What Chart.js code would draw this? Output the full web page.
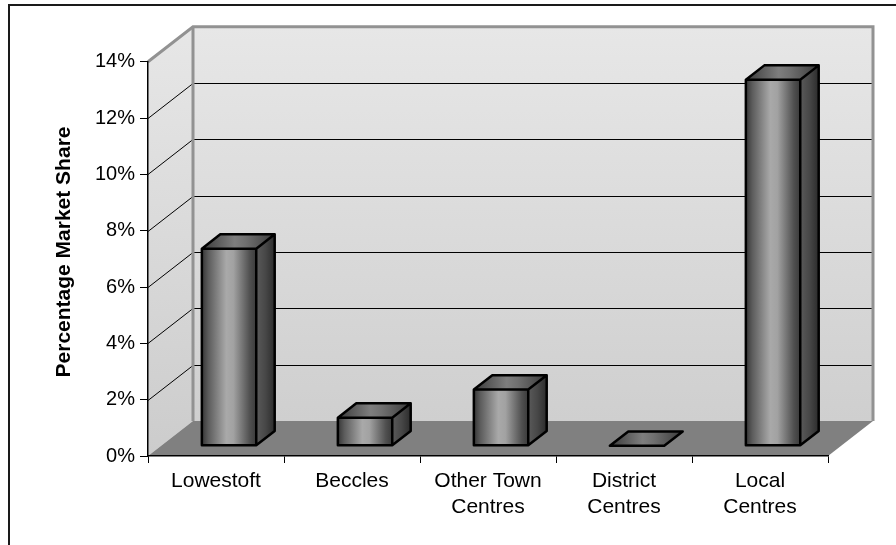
<!DOCTYPE html>
<html>
<head>
<meta charset="utf-8">
<title>Percentage Market Share</title>
<script src="https://cdn.jsdelivr.net/npm/chart.js@4.4.1/dist/chart.umd.min.js"></script>
<style>
  html, body { margin: 0; padding: 0; background: #ffffff; }
  #wrap { width: 896px; height: 545px; position: relative; }
</style>
</head>
<body>
<div id="wrap"><canvas id="chart"></canvas></div>
<script>
// Market share by centre type (percent)
const categories = [['Lowestoft'], ['Beccles'], ['Other Town', 'Centres'], ['District', 'Centres'], ['Local', 'Centres']];
const shareValues = [7, 1, 2, 0, 13];
const yTicks = [0, 2, 4, 6, 8, 10, 12, 14];
const yTitle = 'Percentage Market Share';

// Oblique projection of the 3D box: depth of the floor and the bars' slot in it
const DEPTH_X = 45, DEPTH_Y = 35;
const BAR_FRONT = 0.29, BAR_DEPTH = 0.41;
const FONT = '"Liberation Sans", Arial, sans-serif';

const walls3d = {
  id: 'walls3d',
  beforeDraw(chart) {
    const { ctx, chartArea: a, scales: { y } } = chart;
    ctx.save();
    ctx.fillStyle = '#ffffff';
    ctx.fillRect(0, 0, chart.width, chart.height);

    // outer frame
    ctx.strokeStyle = '#1a1a1a';
    ctx.lineWidth = 2;
    ctx.beginPath();
    ctx.moveTo(9, chart.height + 2);
    ctx.lineTo(9, 5);
    ctx.lineTo(chart.width + 2, 5);
    ctx.stroke();

    const top = y.getPixelForValue(yTicks[yTicks.length - 1]);
    const bot = y.getPixelForValue(0);
    const bx0 = a.left + DEPTH_X, bx1 = a.right + DEPTH_X;
    const by0 = top - DEPTH_Y, by1 = bot - DEPTH_Y;

    // back wall
    let g = ctx.createLinearGradient(0, by0, 0, by1);
    g.addColorStop(0, '#e7e7e7');
    g.addColorStop(1, '#cfcfcf');
    ctx.fillStyle = g;
    ctx.fillRect(bx0, by0, bx1 - bx0, by1 - by0);

    // side wall
    g = ctx.createLinearGradient(0, by0, 0, bot);
    g.addColorStop(0, '#e7e7e7');
    g.addColorStop(1, '#cccccc');
    ctx.fillStyle = g;
    ctx.beginPath();
    ctx.moveTo(a.left, bot);
    ctx.lineTo(a.left, top);
    ctx.lineTo(bx0, by0);
    ctx.lineTo(bx0, by1);
    ctx.closePath();
    ctx.fill();

    // floor
    ctx.fillStyle = '#808080';
    ctx.beginPath();
    ctx.moveTo(a.left, bot);
    ctx.lineTo(a.right, bot);
    ctx.lineTo(bx1, by1);
    ctx.lineTo(bx0, by1);
    ctx.closePath();
    ctx.fill();

    // gridlines on the walls
    ctx.strokeStyle = '#000000';
    ctx.lineWidth = 1;
    yTicks.forEach(v => {
      if (v === 0 || v === yTicks[yTicks.length - 1]) return;
      const py = Math.round(y.getPixelForValue(v)) + 0.5;
      ctx.beginPath();
      ctx.moveTo(a.left, py);
      ctx.lineTo(bx0, py - DEPTH_Y);
      ctx.lineTo(bx1, py - DEPTH_Y);
      ctx.stroke();
    });

    // wall edges
    ctx.strokeStyle = '#929292';
    ctx.lineWidth = 3;
    ctx.lineJoin = 'miter';
    ctx.beginPath();
    ctx.moveTo(a.left, top);
    ctx.lineTo(bx0, by0);
    ctx.lineTo(bx1, by0);
    ctx.lineTo(bx1, by1);
    ctx.stroke();
    ctx.beginPath();
    ctx.moveTo(bx0, by0);
    ctx.lineTo(bx0, by1);
    ctx.stroke();

    // y-axis title
    ctx.fillStyle = '#000000';
    ctx.font = 'bold 21px ' + FONT;
    ctx.textAlign = 'center';
    ctx.textBaseline = 'middle';
    ctx.translate(64, 252);
    ctx.rotate(-Math.PI / 2);
    ctx.fillText(yTitle, 0, 0);
    ctx.restore();
  }
};

const bars3d = {
  id: 'bars3d',
  afterDatasetsDraw(chart) {
    const { ctx } = chart;
    const meta = chart.getDatasetMeta(0);
    const fx = DEPTH_X * BAR_FRONT, fy = DEPTH_Y * BAR_FRONT;
    const dx = DEPTH_X * BAR_DEPTH, dy = DEPTH_Y * BAR_DEPTH;
    ctx.save();
    ctx.lineJoin = 'round';
    meta.data.forEach(bar => {
      const p = bar.getProps(['x', 'y', 'base', 'width'], true);
      const l = p.x - p.width / 2 + fx, r = p.x + p.width / 2 + fx;
      const t = p.y - fy, b = p.base - fy;

      // front face
      if (b - t > 0.5) {
        const g = ctx.createLinearGradient(l, 0, r, 0);
        g.addColorStop(0, '#363636');
        g.addColorStop(0.12, '#5c5c5c');
        g.addColorStop(0.45, '#a9a9a9');
        g.addColorStop(0.58, '#a2a2a2');
        g.addColorStop(0.88, '#505050');
        g.addColorStop(1, '#3a3a3a');
        ctx.fillStyle = g;
        ctx.fillRect(l, t, r - l, b - t);

        // side face
        const gs = ctx.createLinearGradient(r, 0, r + dx, 0);
        gs.addColorStop(0, '#5a5a5a');
        gs.addColorStop(0.5, '#474747');
        gs.addColorStop(1, '#2c2c2c');
        ctx.fillStyle = gs;
        ctx.beginPath();
        ctx.moveTo(r, t);
        ctx.lineTo(r + dx, t - dy);
        ctx.lineTo(r + dx, b - dy);
        ctx.lineTo(r, b);
        ctx.closePath();
        ctx.fill();
      }

      // top face
      const gt = ctx.createLinearGradient(l, 0, r + dx, 0);
      gt.addColorStop(0, '#3a3a3a');
      gt.addColorStop(0.45, '#7e7e7e');
      gt.addColorStop(0.6, '#707070');
      gt.addColorStop(1, '#3a3a3a');
      ctx.fillStyle = gt;
      ctx.beginPath();
      ctx.moveTo(l, t);
      ctx.lineTo(l + dx, t - dy);
      ctx.lineTo(r + dx, t - dy);
      ctx.lineTo(r, t);
      ctx.closePath();
      ctx.fill();

      // outlines
      ctx.strokeStyle = '#000000';
      ctx.lineWidth = 2.5;
      ctx.beginPath();
      ctx.moveTo(l, t);
      ctx.lineTo(l + dx, t - dy);
      ctx.lineTo(r + dx, t - dy);
      ctx.lineTo(r, t);
      ctx.closePath();
      if (b - t > 0.5) {
        ctx.moveTo(l, t);
        ctx.lineTo(l, b);
        ctx.lineTo(r, b);
        ctx.lineTo(r, t);
        ctx.moveTo(r, b);
        ctx.lineTo(r + dx, b - dy);
        ctx.lineTo(r + dx, t - dy);
      }
      ctx.stroke();
    });
    ctx.restore();
  }
};

new Chart(document.getElementById('chart'), {
  type: 'bar',
  data: {
    labels: categories,
    datasets: [{
      data: shareValues,
      backgroundColor: 'rgba(0,0,0,0)',
      borderWidth: 0,
      categoryPercentage: 1,
      barPercentage: 0.4
    }]
  },
  options: {
    responsive: true,
    maintainAspectRatio: false,
    animation: false,
    events: [],
    layout: { padding: { left: 0, top: 61.7, right: 68, bottom: 0 } },
    plugins: { legend: { display: false }, tooltip: { enabled: false }, title: { display: false } },
    scales: {
      x: {
        afterFit(s) { s.height = 89; },
        grid: { offset: true, drawOnChartArea: false, drawTicks: true, tickLength: 7, color: '#000000', lineWidth: 1 },
        border: { display: true, color: '#000000', width: 1.5 },
        ticks: { color: '#000000', font: { family: FONT, size: 21, lineHeight: 1.25 }, padding: 5, maxRotation: 0, autoSkip: false }
      },
      y: {
        min: 0,
        max: 14,
        afterFit(s) { s.width = 148; },
        afterBuildTicks(s) { s.ticks = yTicks.map(v => ({ value: v })); },
        grid: { drawOnChartArea: false, drawTicks: true, tickLength: 8, color: '#000000', lineWidth: 1 },
        border: { display: true, color: '#000000', width: 1.5 },
        ticks: { color: '#000000', font: { family: FONT, size: 20 }, padding: 5, callback: v => v + '%' }
      }
    }
  },
  plugins: [walls3d, bars3d]
});
</script>
</body>
</html>
